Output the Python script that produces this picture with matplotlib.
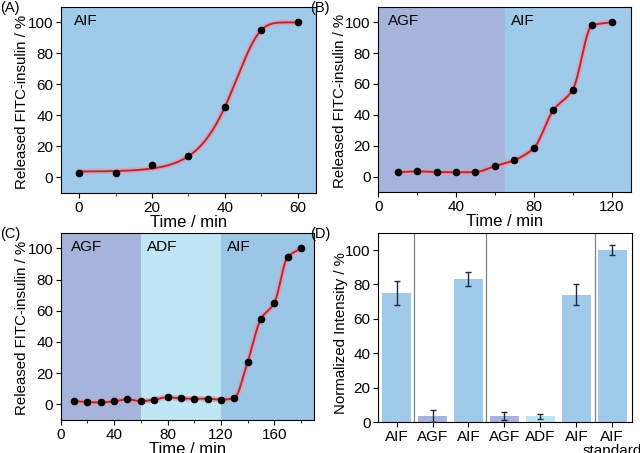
import numpy as np
import matplotlib.pyplot as plt
from matplotlib.ticker import MultipleLocator

plt.rcParams['font.family'] = ['Liberation Sans', 'DejaVu Sans']

# (A) release in AIF only
a_time = [0, 10, 20, 30, 40, 50, 60]
a_rel = [3, 3, 8, 13.6, 45.4, 95, 100]

# (B) AGF then AIF
b_time = [10, 20, 30, 40, 50, 60, 70, 80, 90, 100, 110, 120]
b_rel = [2.8, 3.4, 3.0, 2.8, 3.0, 6.8, 10.7, 18.5, 43, 56.3, 98, 100]

# (C) AGF, ADF then AIF
c_time = [10, 20, 30, 40, 50, 60, 70, 80, 90, 100, 110, 120, 130, 140, 150, 160, 170, 180]
c_rel = [2, 1.5, 1.2, 2, 3.2, 2, 3, 4.5, 3.8, 3.6, 3.6, 3, 4, 27, 54.7, 65, 94.4, 100]

# (D) normalized intensity
d_labels = ['AIF', 'AGF', 'AIF', 'AGF', 'ADF', 'AIF', 'AIF\nstandard']
d_vals = [75, 3.5, 83, 3.5, 3.5, 74, 100]
d_err = [7, 3.5, 4, 2.5, 1.5, 6, 3]
d_media = ['AIF', 'AGF', 'AIF', 'AGF', 'ADF', 'AIF', 'AIF']

col = {'AIF': '#a0cae9', 'AGF': '#a6b4dc', 'ADF': '#bee6f4'}
red = '#b5283a'


def pchip(x, y, xs):
    x = np.asarray(x, float)
    y = np.asarray(y, float)
    h = np.diff(x)
    d = np.diff(y) / h
    m = np.zeros_like(y)
    for i in range(1, len(x) - 1):
        if d[i - 1] * d[i] > 0:
            w1 = 2 * h[i] + h[i - 1]
            w2 = h[i] + 2 * h[i - 1]
            m[i] = (w1 + w2) / (w1 / d[i - 1] + w2 / d[i])
    m[0] = d[0]
    m[-1] = d[-1]
    idx = np.clip(np.searchsorted(x, xs) - 1, 0, len(x) - 2)
    t = (xs - x[idx]) / h[idx]
    h00 = 2 * t**3 - 3 * t**2 + 1
    h10 = t**3 - 2 * t**2 + t
    h01 = -2 * t**3 + 3 * t**2
    h11 = t**3 - t**2
    return h00 * y[idx] + h10 * h[idx] * m[idx] + h01 * y[idx + 1] + h11 * h[idx] * m[idx + 1]


def sigmoid_fit(x, y, xs):
    # asymmetric sigmoid 1 - exp(-exp(k(x-x0))), scaled by least squares
    x = np.asarray(x, float)
    y = np.asarray(y, float)
    best = None
    for x0 in np.linspace(35, 55, 101):
        for k in np.linspace(0.05, 0.3, 51):
            s = 1 - np.exp(-np.exp(k * (x - x0)))
            A = np.vstack([np.ones_like(s), s]).T
            coef, *_ = np.linalg.lstsq(A, y, rcond=None)
            err = np.sum((A @ coef - y) ** 2)
            if best is None or err < best[0]:
                best = (err, x0, k, coef)
    _, x0, k, coef = best
    return coef[0] + coef[1] * (1 - np.exp(-np.exp(k * (xs - x0))))


def draw_curve(ax, x, y, ys_fn):
    xs = np.linspace(min(x), max(x), 300)
    ys = ys_fn(x, y, xs)
    ax.plot(xs, ys, color='#e39aad', lw=4, alpha=0.75, zorder=3)
    ax.plot(xs, ys, color=red, lw=1.4, zorder=4)
    ax.plot(x, y, 'o', color='black', ms=4.5, zorder=5)


def style(ax):
    ax.tick_params(direction='out', labelsize=11, length=3.5, width=0.8, pad=2)
    ax.tick_params(which='minor', direction='out', length=2, width=0.6)
    for s in ax.spines.values():
        s.set_linewidth(0.8)


fig = plt.figure(figsize=(6.4, 4.53), dpi=100)

axA = fig.add_axes([0.095, 0.574, 0.399, 0.411])
axB = fig.add_axes([0.591, 0.576, 0.395, 0.409])
axC = fig.add_axes([0.095, 0.073, 0.396, 0.413])
axD = fig.add_axes([0.591, 0.068, 0.396, 0.418])

# A
axA.set_facecolor(col['AIF'])
draw_curve(axA, a_time, a_rel, sigmoid_fit)
axA.set_xlim(-5, 65)
axA.xaxis.set_major_locator(MultipleLocator(20))
axA.xaxis.set_minor_locator(MultipleLocator(10))
axA.text(0.05, 0.925, 'AIF', transform=axA.transAxes, fontsize=11, va='center')

# B
axB.axvspan(0, 65, color=col['AGF'], lw=0, zorder=0)
axB.axvspan(65, 130, color=col['AIF'], lw=0, zorder=0)
draw_curve(axB, b_time, b_rel, pchip)
axB.set_xlim(0, 130)
axB.xaxis.set_major_locator(MultipleLocator(40))
axB.xaxis.set_minor_locator(MultipleLocator(20))
axB.text(0.04, 0.925, 'AGF', transform=axB.transAxes, fontsize=11, va='center')
axB.text(0.525, 0.925, 'AIF', transform=axB.transAxes, fontsize=11, va='center')

# C
axC.axvspan(0, 60, color=col['AGF'], lw=0, zorder=0)
axC.axvspan(60, 120, color=col['ADF'], lw=0, zorder=0)
axC.axvspan(120, 190, color='#9cc6e6', lw=0, zorder=0)
draw_curve(axC, c_time, c_rel, pchip)
axC.set_xlim(0, 190)
axC.xaxis.set_major_locator(MultipleLocator(40))
axC.xaxis.set_minor_locator(MultipleLocator(20))
axC.text(0.04, 0.925, 'AGF', transform=axC.transAxes, fontsize=11, va='center')
axC.text(0.34, 0.925, 'ADF', transform=axC.transAxes, fontsize=11, va='center')
axC.text(0.655, 0.925, 'AIF', transform=axC.transAxes, fontsize=11, va='center')

for ax in (axA, axB, axC):
    ax.set_ylim(-10, 110)
    ax.yaxis.set_major_locator(MultipleLocator(20))
    ax.set_xlabel('Time / min', fontsize=12, labelpad=0)
    ax.set_ylabel('Released FITC-insulin / %', fontsize=10.8)
    ax.yaxis.set_label_coords(-0.125, 0.49)
    style(ax)

# D
pos = np.arange(len(d_vals))
axD.bar(pos, d_vals, width=0.8, color=[col[m] for m in d_media], zorder=2)
axD.errorbar(pos, d_vals, yerr=d_err, fmt='none', ecolor='#1f2a44', elinewidth=1,
             capsize=2.5, capthick=1, zorder=3)
for xv in (0.48, 2.5, 5.52):
    axD.axvline(xv, color='#808080', lw=0.9, zorder=1)
axD.set_xlim(-0.51, 6.54)
axD.set_ylim(0, 110)
axD.set_xticks(pos)
axD.set_xticklabels(d_labels, linespacing=1.0)
axD.yaxis.set_major_locator(MultipleLocator(20))
axD.set_ylabel('Normalized Intensity / %', fontsize=10.8)
axD.yaxis.set_label_coords(-0.12, 0.47)
style(axD)

fig.text(0.0, 0.982, '(A)', fontsize=10.5, va='center')
fig.text(0.484, 0.982, '(B)', fontsize=10.5, va='center')
fig.text(0.0, 0.483, '(C)', fontsize=10.5, va='center')
fig.text(0.484, 0.483, '(D)', fontsize=10.5, va='center')

fig.savefig('out.png', dpi=100)
